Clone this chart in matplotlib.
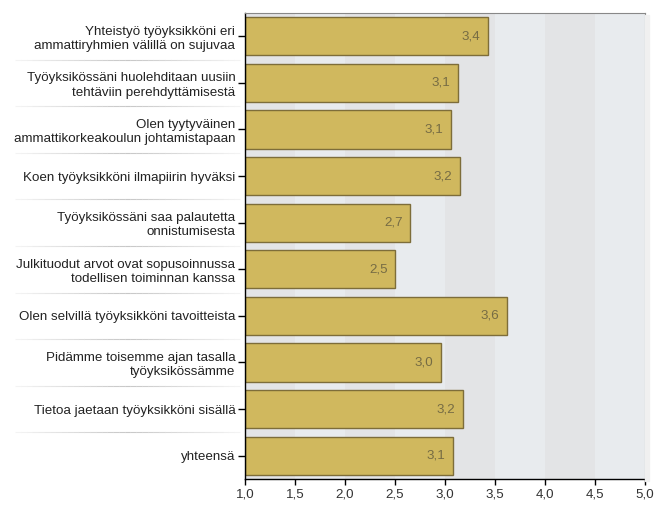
import matplotlib
matplotlib.use("Agg")
import matplotlib.pyplot as plt
from matplotlib.patches import Rectangle
from matplotlib.collections import LineCollection
import numpy as np

categories = [
    "Yhteistyö työyksikköni eri\nammattiryhmien välillä on sujuvaa",
    "Työyksikössäni huolehditaan uusiin\ntehtäviin perehdyttämisestä",
    "Olen tyytyväinen\nammattikorkeakoulun johtamistapaan",
    "Koen työyksikköni ilmapiirin hyväksi",
    "Työyksikössäni saa palautetta\nonnistumisesta",
    "Julkituodut arvot ovat sopusoinnussa\ntodellisen toiminnan kanssa",
    "Olen selvillä työyksikköni tavoitteista",
    "Pidämme toisemme ajan tasalla\ntyöyksikössämme",
    "Tietoa jaetaan työyksikköni sisällä",
    "yhteensä",
]
values = [3.43, 3.13, 3.06, 3.15, 2.65, 2.50, 3.62, 2.96, 3.18, 3.08]
value_labels = ["3,4", "3,1", "3,1", "3,2", "2,7", "2,5", "3,6", "3,0", "3,2", "3,1"]
xticks = [1.0, 1.5, 2.0, 2.5, 3.0, 3.5, 4.0, 4.5, 5.0]
xtick_labels = ["1,0", "1,5", "2,0", "2,5", "3,0", "3,5", "4,0", "4,5", "5,0"]

plt.rcParams['font.family'] = ['Liberation Sans', 'DejaVu Sans']

fig = plt.figure(figsize=(6.65, 5.13), dpi=100)
ax = fig.add_axes([245/665, 1-479/513, 400/665, 466/513])

n = len(categories)
ax.set_xlim(1.0, 5.0)
ax.set_ylim(n - 0.5, -0.5)

# background bands
for i in range(8):
    x0 = 1.0 + i * 0.5
    col = "#e3e4e6" if i % 2 == 0 else "#e8ebee"
    ax.axvspan(x0, x0 + 0.5, color=col, zorder=0, lw=0)

y = np.arange(n)
ax.barh(y, [v - 1.0 for v in values], left=1.0, height=0.82,
        color="#d0b85e", edgecolor="#7d6d3a", linewidth=1.0, zorder=2)

for yi, v, lab in zip(y, values, value_labels):
    ax.text(v - 0.075, yi, lab, ha="right", va="center", fontsize=9.6,
            color="#766c44", zorder=3)

ax.set_yticks(y)
ax.set_yticklabels(categories, fontsize=9.6, color="#222222", linespacing=1.25)
ax.set_xticks(xticks)
ax.set_xticklabels(xtick_labels, fontsize=9.6, color="#333333")
ax.tick_params(axis="y", length=5, width=1, color="black", pad=2)
ax.tick_params(axis="x", length=4, width=1, color="black", pad=3)

for s in ["top", "right"]:
    ax.spines[s].set_color("#888888")
for s in ["left", "bottom"]:
    ax.spines[s].set_color("black")
    ax.spines[s].set_linewidth(1.0)

# separator lines between category labels (faded at the ends)
xs = np.linspace(-230/400, -5/400, 40)
for k in range(1, n):
    yy = k - 0.5
    segs = [[(xs[j], yy), (xs[j+1], yy)] for j in range(len(xs) - 1)]
    mid = (xs[:-1] + xs[1:]) / 2
    t = (mid - xs[0]) / (xs[-1] - xs[0])
    a = 1 - np.abs(t - 0.5) * 2
    cols = [(0.6, 0.6, 0.6, 0.1 + 0.45 * ai) for ai in a]
    lc = LineCollection(segs, colors=cols, linewidths=0.8,
                        transform=ax.get_yaxis_transform(), clip_on=False,
                        zorder=1)
    ax.add_collection(lc)

# shadow on right side
fig.patches.append(Rectangle((645/665, 1-481/513), 4/665, 466/513,
                             transform=fig.transFigure, color="#f0f0f0",
                             zorder=0))

fig.savefig("out.png", dpi=100)
